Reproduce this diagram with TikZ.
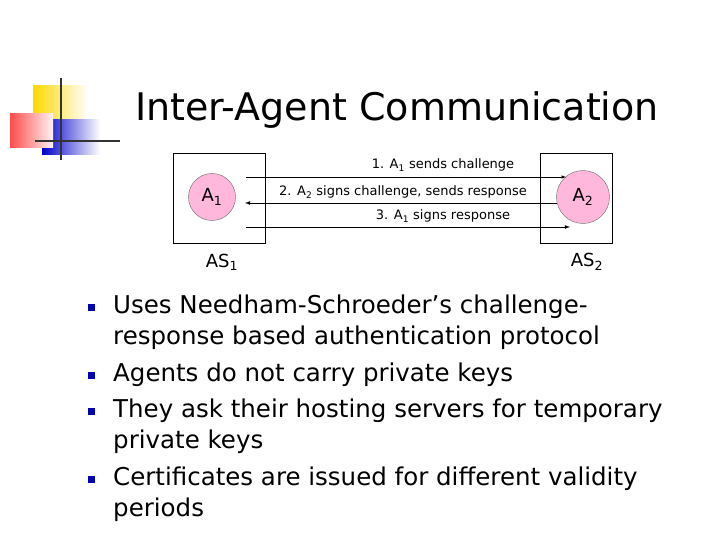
\documentclass[tikz,border=0pt]{standalone}
\usepackage{fontspec}
\setmainfont{DejaVu Sans}
\begin{document}
\begin{tikzpicture}[x=1pt,y=-1pt,
  box/.style={draw,line width=0.6pt},
  agent/.style={circle,fill=pink!80!magenta!70,draw=black!60,line width=0.4pt,inner sep=0pt},
  msg/.style={-latex,line width=0.8pt},
  lbl/.style={font=\fontsize{13}{15}\selectfont,inner sep=0pt},
  bul/.style={fill=blue!70!black,minimum size=7pt,inner sep=0pt},
  txt/.style={anchor=west,align=left,font=\fontsize{24.5}{31}\selectfont,inner sep=0pt}]
\useasboundingbox (0,0) rectangle (720,540);
% logo
\shade[left color=yellow!70!orange,right color=white] (33,86) rectangle (88,120);
\shade[left color=blue!80!black,right color=white] (42,120) rectangle (100,155);
\shade[left color=red!70,right color=red!5] (10,114) rectangle (53,148);
\draw[line width=2.5pt,black!80] (61,78) -- (61,160);
\draw[line width=2.5pt,black!80] (35,141) -- (120,141);
\node[font=\fontsize{38}{42}\selectfont,inner sep=0pt] (title) at (397,110) {Inter-Agent Communication};
% boxes
\node[box,minimum width=92pt,minimum height=90pt] (as1) at (219,198) {};
\node[box,minimum width=72pt,minimum height=90pt] (as2) at (576,198) {};
\node[agent,minimum size=47pt,font=\fontsize{18}{20}\selectfont] (a1) at (212,197) {A\textsubscript{1}};
\node[agent,minimum size=53pt,font=\fontsize{18}{20}\selectfont] (a2) at (583,197) {A\textsubscript{2}};
\coordinate (s1) at (246,177); \coordinate (e1) at (566,177);
\coordinate (s2) at (557,203); \coordinate (e2) at (245,203);
\coordinate (s3) at (246,227); \coordinate (e3) at (570,227);
\draw[msg,line width=0.5pt] (s1) -- (e1);
\draw[msg] (s2) -- (e2);
\draw[msg] (s3) -- (e3);
\node[lbl] (l1) at (443,165) {1. A\textsubscript{1} sends challenge};
\node[lbl] (l2) at (403,192) {2. A\textsubscript{2} signs challenge, sends response};
\node[lbl] (l3) at (443,216) {3. A\textsubscript{1} signs response};
\node[font=\fontsize{18}{20}\selectfont,inner sep=0pt] (n1) at (222,262) {AS\textsubscript{1}};
\node[font=\fontsize{18}{20}\selectfont,inner sep=0pt] (n2) at (587,262) {AS\textsubscript{2}};
% bullets
\node[bul] (b1) at (91,307) {};
\node[bul] (b2) at (91,375) {};
\node[bul] (b3) at (91,411) {};
\node[bul] (b4) at (91,479) {};
\node[txt] (t1) at (113,322) {Uses Needham-Schroeder’s challenge-\\response based authentication protocol};
\node[txt] (t2) at (113,375) {Agents do not carry private keys};
\node[txt] (t3) at (113,426) {They ask their hosting servers for temporary\\private keys};
\node[txt] (t4) at (113,494) {Certificates are issued for different validity\\periods};
\end{tikzpicture}
\end{document}
